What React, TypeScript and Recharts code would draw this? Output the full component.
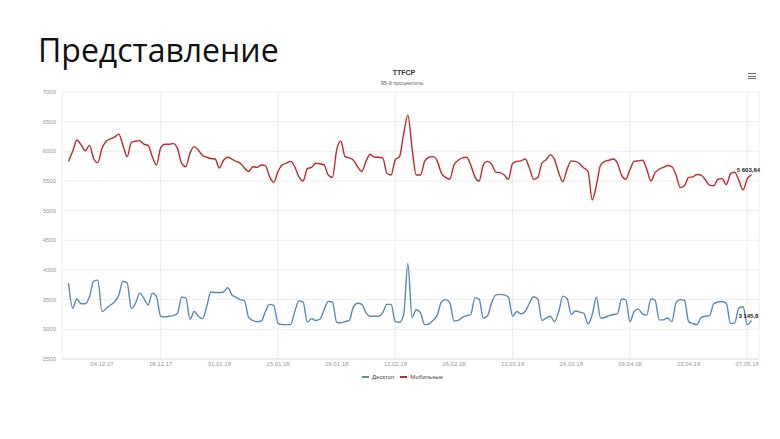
import { LineChart, Line, XAxis, YAxis, CartesianGrid } from "recharts";

// daily 95th percentile TTFCP, 26.11.17 .. 08.05.18 (one row = two weeks)
const desktop = [
  3780, 3360, 3510, 3430, 3430, 3550, 3810, 3830, 3300, 3350, 3410, 3460, 3580, 3810,
  3780, 3350, 3440, 3610, 3520, 3410, 3610, 3550, 3220, 3210, 3220, 3230, 3270, 3540,
  3530, 3170, 3300, 3220, 3180, 3390, 3630, 3620, 3620, 3630, 3700, 3580, 3540, 3500,
  3480, 3200, 3150, 3130, 3140, 3300, 3420, 3400, 3100, 3080, 3080, 3080, 3300, 3480,
  3460, 3120, 3180, 3150, 3170, 3330, 3470, 3460, 3120, 3110, 3130, 3150, 3380, 3440,
  3420, 3280, 3220, 3220, 3220, 3280, 3420, 3420, 3130, 3120, 3250, 4110, 3200, 3330,
  3280, 3080, 3090, 3150, 3240, 3460, 3500, 3450, 3140, 3150, 3200, 3230, 3250, 3530,
  3510, 3190, 3230, 3450, 3580, 3590, 3580, 3540, 3220, 3300, 3260, 3300, 3440, 3550,
  3510, 3150, 3190, 3220, 3130, 3300, 3560, 3520, 3250, 3310, 3290, 3270, 3090, 3250,
  3540, 3190, 3200, 3230, 3250, 3260, 3510, 3500, 3130, 3300, 3340, 3260, 3240, 3510,
  3490, 3160, 3160, 3190, 3130, 3450, 3500, 3490, 3130, 3100, 3080, 3200, 3220, 3230,
  3430, 3460, 3470, 3440, 3100, 3110, 3360, 3380, 3080, 3145.8,
];

const mobile = [
  5830, 6000, 6190, 6110, 6010, 6100, 5880, 5810, 6050, 6170, 6210, 6240, 6290, 6100,
  5910, 6150, 6170, 6180, 6120, 6100, 5910, 5770, 6060, 6120, 6120, 6130, 6050, 5800,
  5740, 5970, 6080, 6020, 5930, 5900, 5880, 5870, 5720, 5850, 5900, 5870, 5830, 5800,
  5720, 5660, 5740, 5730, 5770, 5760, 5570, 5480, 5660, 5770, 5800, 5830, 5740, 5570,
  5500, 5710, 5730, 5800, 5790, 5770, 5600, 5560, 6020, 6170, 5910, 5890, 5850, 5740,
  5660, 5830, 5950, 5900, 5900, 5890, 5630, 5600, 5860, 5910, 6300, 6610, 6050, 5600,
  5600, 5830, 5900, 5910, 5840, 5630, 5560, 5530, 5770, 5850, 5890, 5900, 5770, 5570,
  5500, 5770, 5830, 5780, 5650, 5640, 5600, 5530, 5800, 5830, 5840, 5870, 5720, 5530,
  5560, 5800, 5860, 5940, 5860, 5640, 5490, 5700, 5840, 5830, 5790, 5720, 5660, 5180,
  5430, 5770, 5830, 5850, 5870, 5800, 5600, 5530, 5690, 5830, 5840, 5850, 5700, 5500,
  5640, 5700, 5730, 5760, 5740, 5600, 5390, 5420, 5560, 5570, 5610, 5600, 5520, 5430,
  5420, 5530, 5540, 5440, 5620, 5650, 5510, 5350, 5540, 5603.64,
];

// day index (from 26.11.17) of each labelled Monday
const tickDays = [8, 22, 36, 50, 64, 78, 92, 106, 120, 134, 148, 162];
const tickLabels = [
  "04.12.17", "18.12.17", "01.01.18", "15.01.18", "29.01.18", "12.02.18",
  "26.02.18", "12.03.18", "26.03.18", "09.04.18", "23.04.18", "07.05.18",
];
const yTicks = [2500, 3000, 3500, 4000, 4500, 5000, 5500, 6000, 6500, 7000];

const data = desktop.map((v, i) => ({ d: i, desktop: v, mobile: mobile[i] }));

const BLUE = "#5b87bb";
const RED = "#c0282a";
const FONT = "'Liberation Sans', Arial, sans-serif";

function fmt(v: number) {
  const [i, f] = String(v).split(".");
  return i.replace(/\B(?=(\d{3})+(?!\d))/g, " ") + (f ? "," + f : "");
}

const lastLabel = (props: any) => {
  if (props.index !== data.length - 1) return null;
  return (
    <text x={props.x - 3} y={props.y - 3} textAnchor="middle" fontSize={6} fontWeight="bold" fill="#222" fontFamily={FONT}>
      {fmt(props.value)}
    </text>
  );
};

export default function App() {
  return (
    <div style={{ position: "absolute", left: 0, top: 0, width: 780, height: 439, background: "#fff", fontFamily: FONT }}>
      <div style={{ position: "absolute", left: 38, top: 26, fontFamily: "'Open Sans', sans-serif", fontSize: 32, color: "#111", lineHeight: "48px" }}>
        Представление
      </div>
      <div style={{ position: "absolute", left: 304, width: 200, top: 69, textAlign: "center", fontSize: 7, fontWeight: "bold", color: "#333" }}>
        TTFCP
      </div>
      <div style={{ position: "absolute", left: 302, width: 200, top: 80, textAlign: "center", fontSize: 5.5, color: "#666" }}>
        95-й процентиль
      </div>
      {[73, 75.5, 78].map((t) => (
        <div key={t} style={{ position: "absolute", left: 748, top: t, width: 8, height: 1, background: "#666" }} />
      ))}
      <div style={{ position: "absolute", left: 0, top: 0 }}>
        <LineChart width={780} height={439} data={data} margin={{ top: 92, right: 21, left: 42, bottom: 60 }}>
          <CartesianGrid stroke="#e8e8e8" strokeWidth={0.8} />
          <XAxis
            dataKey="d"
            type="number"
            domain={[-1.55, 164.8]}
            ticks={tickDays}
            tickFormatter={(v: number) => tickLabels[tickDays.indexOf(v)]}
            height={20}
            tickSize={2}
            tickMargin={1}
            tickLine={false}
            axisLine={{ stroke: "#e0e0e0" }}
            tick={{ fontSize: 6, fill: "#999", fontFamily: FONT }}
            allowDataOverflow
          />
          <YAxis
            domain={[2500, 7000]}
            ticks={yTicks}
            width={20}
            tickSize={4}
            tickMargin={2}
            tickLine={false}
            axisLine={false}
            tick={{ fontSize: 6, fill: "#999", fontFamily: FONT }}
          />
          <Line type="monotone" dataKey="desktop" stroke={BLUE} strokeWidth={1.4} dot={false} isAnimationActive={false} label={lastLabel} />
          <Line type="monotone" dataKey="mobile" stroke={RED} strokeWidth={1.4} dot={false} isAnimationActive={false} label={lastLabel} />
        </LineChart>
      </div>
      <div style={{ position: "absolute", left: 362, top: 374, display: "flex", alignItems: "center", fontSize: 6, color: "#444" }}>
        <span style={{ display: "inline-block", width: 7, height: 1.3, background: BLUE, marginRight: 3 }} />
        <span>Десктоп</span>
        <span style={{ display: "inline-block", width: 7, height: 1.3, background: RED, marginLeft: 6, marginRight: 3 }} />
        <span>Мобильные</span>
      </div>
    </div>
  );
}
